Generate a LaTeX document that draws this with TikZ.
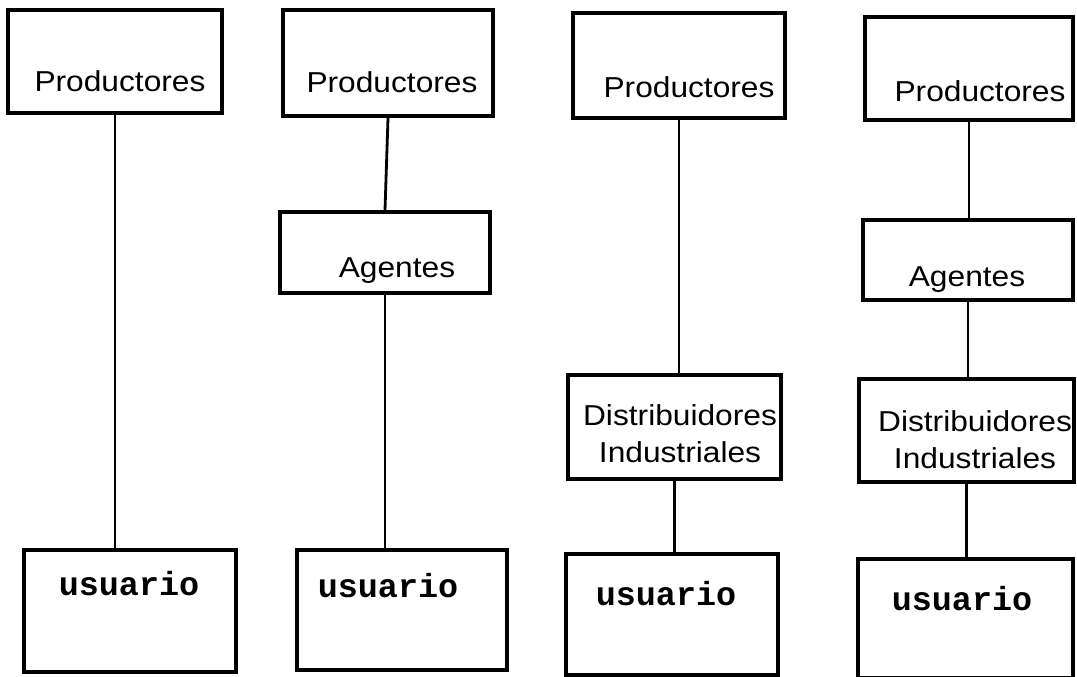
\documentclass[tikz,border=0pt]{standalone}
\usepackage{fontspec}
\usetikzlibrary{fit}
\newfontfamily\helv[FakeStretch=1.1]{Liberation Sans}
\newfontfamily\maq{Liberation Mono}

\begin{document}
\begin{tikzpicture}[x=0.2mm,y=-0.2mm,
  caja/.style={draw,line width=2.2pt,inner sep=0pt},
  linea/.style={line width=1.6pt},
  etiq/.style={anchor=base,inner sep=0pt,align=center,
    font=\fontsize{16.4}{21.5}\selectfont\helv},
  usu/.style={anchor=base,inner sep=0pt,
    font=\fontsize{19}{20}\selectfont\maq\bfseries}]
\useasboundingbox (0,0) rectangle (1077,677);

% cajas
\node[caja,fit={(8,10) (222,113)}] (p1) {};
\node[caja,fit={(24,550) (236,672)}] (u1) {};

\node[caja,fit={(283,10) (493,116)}] (p2) {};
\node[caja,fit={(280,212) (490,293)}] (a2) {};
\node[caja,fit={(297,550) (507,670)}] (u2) {};

\node[caja,fit={(573,13) (785,118)}] (p3) {};
\node[caja,fit={(568,375) (781,479)}] (d3) {};
\node[caja,fit={(566,554) (778,675)}] (u3) {};

\node[caja,fit={(865,17) (1073,120)}] (p4) {};
\node[caja,fit={(863,220) (1073,300)}] (a4) {};
\node[caja,fit={(859,379) (1074,482)}] (d4) {};
\node[caja,fit={(858,559) (1073,678)}] (u4) {};

% textos
\node[etiq] (tp1) at (120,92) {Productores};
\node[etiq] (tp2) at (392,93) {Productores};
\node[etiq] (tp3) at (689,98) {Productores};
\node[etiq] (tp4) at (980,102) {Productores};
\node[etiq] (ta2) at (397,278) {Agentes};
\node[etiq] (ta4) at (967,287) {Agentes};
\node[etiq] (td3) at (680,463) {Distribuidores\\Industriales};
\node[etiq] (td4) at (975,469) {Distribuidores\\Industriales};
\node[usu] (tu1) at (129,595) {usuario};
\node[usu] (tu2) at (388,597) {usuario};
\node[usu] (tu3) at (666,605) {usuario};
\node[usu] (tu4) at (962,610) {usuario};

% lineas
\draw[linea] (p1.south) -- (p1.south |- u1.north);
\draw[linea] (p2.south) -- (a2.north);
\draw[linea] (a2.south) -- (a2.south |- u2.north);
\draw[linea] (p3.south) -- (p3.south |- d3.north);
\draw[linea] (d3.south) -- (d3.south |- u3.north);
\draw[linea] (p4.south) -- (p4.south |- a4.north);
\draw[linea] (a4.south) -- (a4.south |- d4.north);
\draw[linea] (d4.south) -- (d4.south |- u4.north);
\end{tikzpicture}
\end{document}
